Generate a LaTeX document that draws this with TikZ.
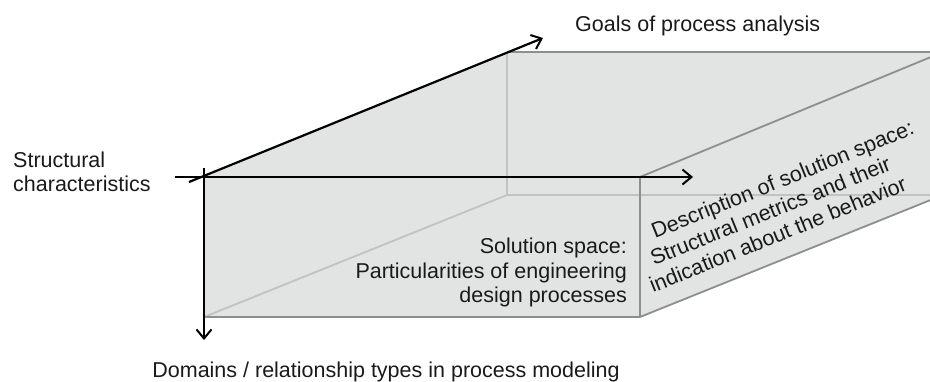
\documentclass[tikz,border=0pt]{standalone}
\usepackage{fontspec}
\setmainfont{Liberation Sans}
\usetikzlibrary{arrows.meta}
\definecolor{boxfill}{HTML}{E2E3E3}
\definecolor{edgegray}{HTML}{8E8E8E}
\definecolor{hiddengray}{HTML}{C2C2C2}
\definecolor{txt}{HTML}{1A1A1A}
\tikzset{
  axisarrow/.style={line width=2.2pt, black, -{Straight Barb[length=9pt,width=15pt,line width=2pt]}},
  visedge/.style={line width=1.8pt, edgegray},
  hidedge/.style={line width=1.8pt, hiddengray},
  lbl/.style={inner sep=0pt, text=txt, font=\fontsize{21.5}{25}\selectfont},
}
\begin{document}
\begin{tikzpicture}[x=1pt,y=-1pt]
\clip (0,0) rectangle (930,381);
% box corners
\coordinate (ftl) at (204,177);
\coordinate (ftr) at (640,177);
\coordinate (fbl) at (204,317);
\coordinate (fbr) at (640,317);
\coordinate (btl) at (507,52);
\coordinate (btr) at (943,52);
\coordinate (bbl) at (507,195);
\coordinate (bbr) at (943,195);
% fill
\fill[boxfill] (ftl) -- (btl) -- (btr) -- (bbr) -- (fbr) -- (fbl) -- cycle;
% hidden edges
\draw[hidedge] (btl) -- (bbl);
\draw[hidedge] (bbl) -- (bbr);
\draw[hidedge] (fbl) -- (bbl);
% visible edges
\draw[visedge] (btl) -- (btr);
\draw[visedge] (ftr) -- (btr);
\draw[visedge] (fbr) -- (bbr);
\draw[visedge] (ftr) -- (fbr);
\draw[visedge] (fbl) -- (fbr);
% axes
\coordinate (xs) at (175,177);
\coordinate (xe) at (693,177);
\coordinate (ys) at (189,182);
\coordinate (ye) at (543,38);
\coordinate (zs) at (204,168);
\coordinate (ze) at (204,340);
\draw[axisarrow] (xs) -- (xe);
\draw[axisarrow] (ys) -- (ye);
\draw[axisarrow] (zs) -- (ze);
% labels
\node[lbl, anchor=base west] (goals) at (575,31) {Goals of process analysis};
\node[lbl, anchor=base west] (struct1) at (13,167) {Structural};
\node[lbl, anchor=base west] (struct2) at (13,191) {characteristics};
\node[lbl, anchor=base] (domains) at (386,377) {Domains / relationship types in process modeling};
\node[lbl, anchor=base east] (sol1) at (627,253) {Solution space:};
\node[lbl, anchor=base east] (sol2) at (627,278) {Particularities of engineering};
\node[lbl, anchor=base east] (sol3) at (627,302) {design processes};
\node[lbl, anchor=base west, rotate=22] (desc1) at (655,239) {Description of solution space:};
\node[lbl, anchor=base west, rotate=22] (desc2) at (654,266) {Structural metrics and their};
\node[lbl, anchor=base west, rotate=22] (desc3) at (653,293) {indication about the behavior};
\end{tikzpicture}
\end{document}
